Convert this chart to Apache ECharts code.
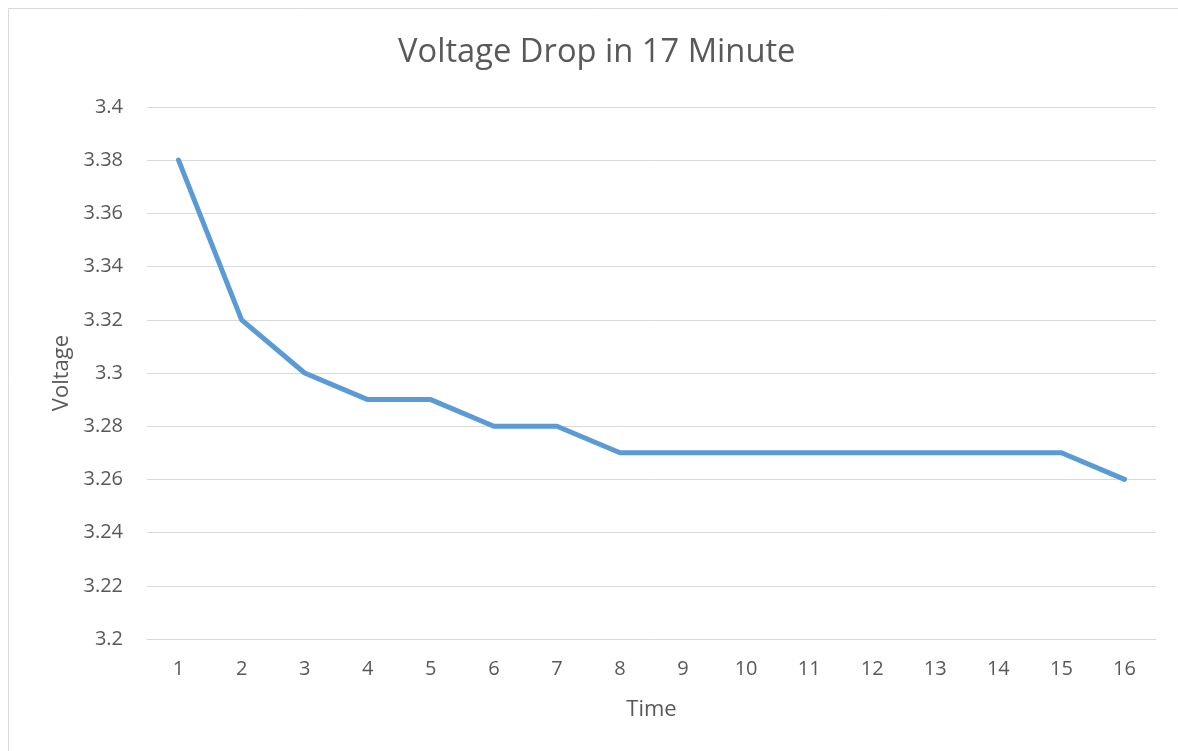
<!DOCTYPE html>
<html>
<head>
<meta charset="utf-8">
<script src="https://cdn.jsdelivr.net/npm/echarts@6/dist/echarts.min.js"></script>
<style>
  html, body { margin: 0; padding: 0; background: #ffffff; }
  #chart { width: 1178px; height: 751px; }
</style>
</head>
<body>
<div id="chart"></div>
<script>
// Elapsed minutes on the x axis
const timeLabels = ['1', '2', '3', '4', '5', '6', '7', '8', '9', '10', '11', '12', '13', '14', '15', '16'];
// Measured battery voltage at each minute
const voltage = [3.38, 3.32, 3.30, 3.29, 3.29, 3.28, 3.28, 3.27, 3.27, 3.27, 3.27, 3.27, 3.27, 3.27, 3.27, 3.26];

const FONT = 'Open Sans';
const TEXT = '#595959';

const chart = echarts.init(document.getElementById('chart'), null, { renderer: 'canvas' });
chart.setOption({
  backgroundColor: '#ffffff',
  animation: false,
  title: {
    text: 'Voltage Drop in 17 Minute',
    left: 393,
    top: 31,
    textStyle: { fontFamily: FONT, fontSize: 32.7, fontWeight: 'normal', color: TEXT }
  },
  graphic: [{
    type: 'rect',
    shape: { x: 8.5, y: 8.5, width: 1300, height: 900 },
    style: { fill: 'none', stroke: '#d9d9d9', lineWidth: 1 },
    silent: true
  }],
  grid: { left: 147, right: 22, top: 107, bottom: 112 },
  xAxis: {
    type: 'category',
    data: timeLabels,
    boundaryGap: true,
    name: 'Time',
    nameLocation: 'middle',
    nameGap: 60,
    nameTextStyle: { fontFamily: FONT, fontSize: 22, color: TEXT },
    axisLine: { show: true, lineStyle: { color: '#d9d9d9', width: 1 } },
    axisTick: { show: false },
    axisLabel: { fontFamily: FONT, fontSize: 20, color: TEXT, margin: 20 }
  },
  yAxis: {
    type: 'value',
    min: 3.2,
    max: 3.4,
    interval: 0.02,
    name: 'Voltage',
    nameLocation: 'middle',
    nameGap: 74,
    nameRotate: 90,
    nameTextStyle: { fontFamily: FONT, fontSize: 22, color: TEXT },
    axisLine: { show: false },
    axisTick: { show: false },
    splitLine: { lineStyle: { color: '#d9d9d9', width: 1 } },
    axisLabel: {
      fontFamily: FONT, fontSize: 20, color: TEXT, margin: 24,
      formatter: v => String(parseFloat(v.toFixed(2)))
    }
  },
  series: [{
    type: 'line',
    data: voltage,
    showSymbol: false,
    lineStyle: { color: '#5b9bd5', width: 5, cap: 'round', join: 'round' },
    itemStyle: { color: '#5b9bd5' }
  }]
});
</script>
</body>
</html>
